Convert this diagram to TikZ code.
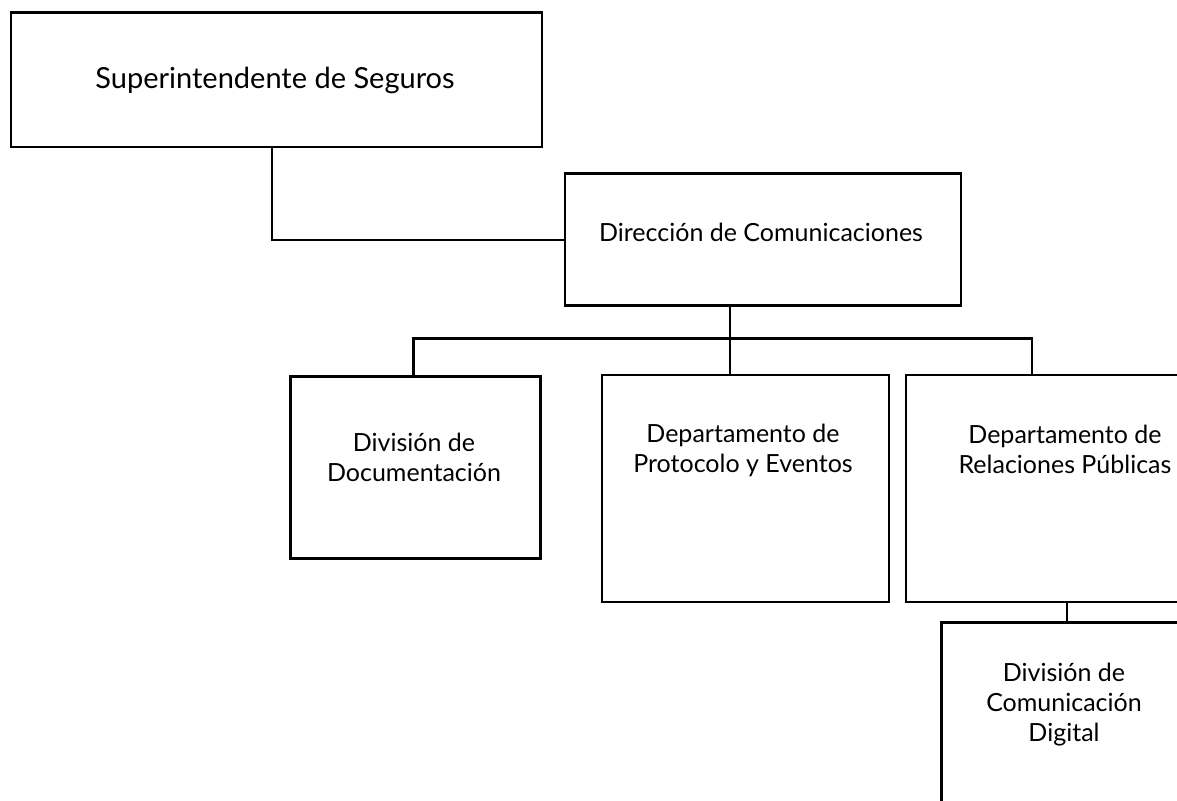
\documentclass[tikz,border=0pt]{standalone}
\usepackage{fontspec}
\setmainfont{Lato}
\begin{document}
\begin{tikzpicture}[x=1pt,y=-1pt,
  box/.style={draw=black,line width=2.6pt,fill=white,rectangle,inner sep=0pt,anchor=north west},
  lbl/.style={align=center,inner sep=0pt,font=\fontsize{25}{30}\selectfont},
  conn/.style={draw=black,line width=2.6pt}]
\useasboundingbox (0,0) rectangle (1177,800);
\clip (0,0) rectangle (1177,800);
\fill[white] (0,0) rectangle (1177,800);
% boxes
\node[box,minimum width=531pt,minimum height=134pt] (sup) at (9.5,11.5) {};
\node[box,minimum width=396pt,minimum height=132pt] (dir) at (563.5,172) {};
\node[box,minimum width=250pt,minimum height=182pt] (doc) at (289,375) {};
\node[box,minimum width=287pt,minimum height=227pt] (pro) at (600.5,373.5) {};
\node[box,minimum width=320pt,minimum height=227pt] (rp) at (904.5,373.5) {};
\node[box,minimum width=246pt,minimum height=240pt] (cd) at (940,621) {};
% texts
\node[lbl,font=\fontsize{29}{30}\selectfont] (tsup) at (275,80) {Superintendente de Seguros};
\node[lbl] (tdir) at (761,232) {Dirección de Comunicaciones};
\node[lbl] (tdoc) at (414,457) {División de\\Documentación};
\node[lbl] (tpro) at (743,450) {Departamento de\\Protocolo y Eventos};
\node[lbl] (trp) at (1065,449) {Departamento de\\Relaciones Públicas};
\node[lbl] (tcd) at (1064,705) {División de\\Comunicación\\Digital};
% connectors
\coordinate (k1) at (272,240);
\coordinate (bar) at (730,338.5);
\coordinate (bL) at (413.5,338.5);
\coordinate (bR) at (1032,338.5);
\coordinate (k2) at (1067,600);
\draw[conn] (k1 |- sup.south) -- (k1) -- (k1 -| dir.west);
\draw[conn] (bar |- dir.south) -- (bar);
\draw[conn] (bL |- doc.north) -- (bL) -- (bR) -- (bR |- rp.north);
\draw[conn] (bar) -- (bar |- pro.north);
\draw[conn] (k2 |- rp.south) -- (k2 |- cd.north);
\end{tikzpicture}
\end{document}
